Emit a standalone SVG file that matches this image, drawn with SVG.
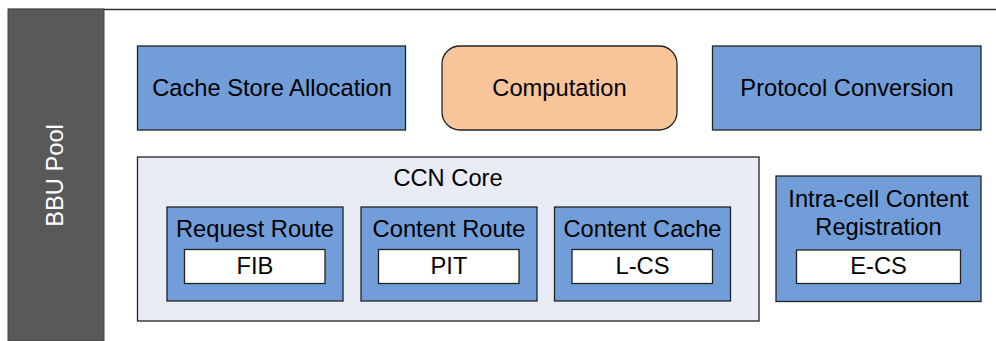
<svg xmlns="http://www.w3.org/2000/svg" width="996" height="341" viewBox="0 0 996 341">
<style>
text{font-family:"Liberation Sans",Arial,sans-serif;font-size:23.7px;fill:#000;text-anchor:middle}
.blue{fill:#719ED9;stroke:#222;stroke-width:1.3}
.white{fill:#fff;stroke:#222;stroke-width:1.3}
.core{fill:#E8EDF5;stroke:#222;stroke-width:1.3}
.orange{fill:#F8C59B;stroke:#222;stroke-width:1.3}
</style>
<rect width="996" height="341" fill="#fff"/>
<g id="frame">
<line x1="8" y1="9.5" x2="996" y2="9.5" stroke="#333" stroke-width="1.5"/>
<rect x="8" y="9" width="96" height="332" fill="#595959" stroke="#444" stroke-width="1"/>
<text transform="translate(63,175.5) rotate(-90)" style="fill:#fff">BBU Pool</text>
</g>
<g id="cache-store-allocation">
<rect class="blue" x="137.5" y="46" width="268" height="84"/>
<text x="272" y="96">Cache Store Allocation</text>
</g>
<g id="computation">
<rect class="orange" x="442" y="46" width="235" height="84" rx="18" ry="18"/>
<text x="559.5" y="96">Computation</text>
</g>
<g id="protocol-conversion">
<rect class="blue" x="712.5" y="46" width="268.5" height="84"/>
<text x="847" y="96">Protocol Conversion</text>
</g>
<g id="ccn-core">
<rect class="core" x="137.5" y="157" width="621.5" height="164"/>
<text x="448" y="186">CCN Core</text>
</g>
<g id="request-route">
<rect class="blue" x="167" y="207" width="176" height="94"/>
<text x="255" y="237">Request Route</text>
<rect class="white" x="184.5" y="249.5" width="140.5" height="34"/>
<text x="255" y="274">FIB</text>
</g>
<g id="content-route">
<rect class="blue" x="361" y="207" width="176" height="94"/>
<text x="449" y="237">Content Route</text>
<rect class="white" x="378.5" y="249.5" width="140.5" height="34"/>
<text x="449" y="274">PIT</text>
</g>
<g id="content-cache">
<rect class="blue" x="554.5" y="207" width="176" height="94"/>
<text x="642.5" y="237">Content Cache</text>
<rect class="white" x="572" y="249.5" width="140.5" height="34"/>
<text x="642.5" y="274">L-CS</text>
</g>
<g id="intra-cell-content-registration">
<rect class="blue" x="776" y="176" width="205" height="125.5"/>
<text x="878.5" y="206.5">Intra-cell Content</text>
<text x="878.5" y="235">Registration</text>
<rect class="white" x="796.5" y="250" width="164" height="33.5"/>
<text x="878.5" y="274">E-CS</text>
</g>
<g id="connectors"></g>
</svg>
